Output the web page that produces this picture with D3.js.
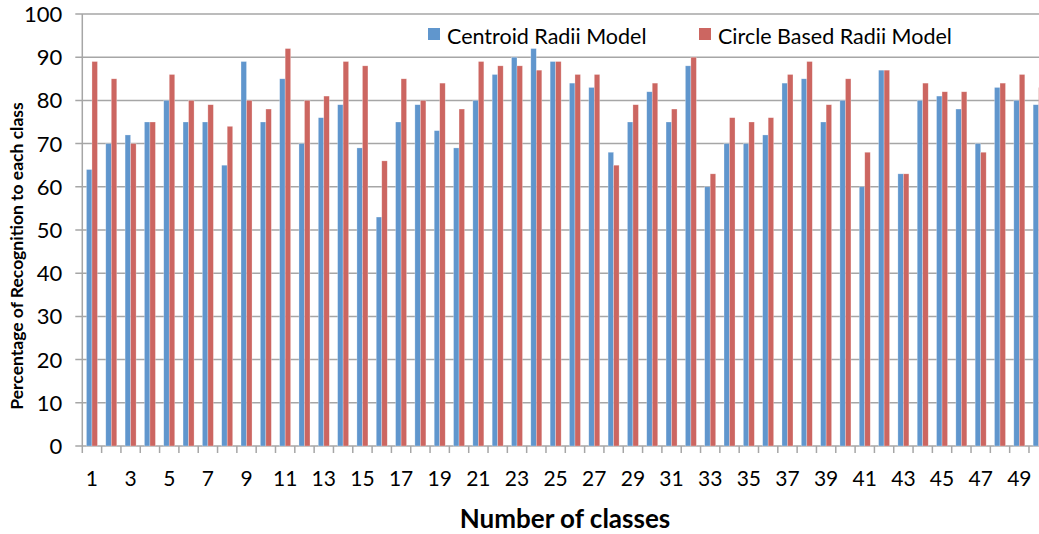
<!DOCTYPE html>
<html>
<head>
<meta charset="utf-8">
<script src="https://cdn.jsdelivr.net/npm/d3@7"></script>
<style>
  body { margin: 0; background: #fff; }
  svg { display: block; }
  text { font-family: Lato, "Open Sans", sans-serif; fill: #000; }
</style>
</head>
<body>
<div id="chart"></div>
<script>
// classes 1..50 (the last one is cut off by the right edge in the original)
var classes = d3.range(1, 51);
var seriesNames = ["Centroid Radii Model", "Circle Based Radii Model"];
var centroid = [64, 70, 72, 75, 80, 75, 75, 65, 89, 75,
                85, 70, 76, 79, 69, 53, 75, 79, 73, 69,
                80, 86, 90, 92, 89, 84, 83, 68, 75, 82,
                75, 88, 60, 70, 70, 72, 84, 85, 75, 80,
                60, 87, 63, 80, 81, 78, 70, 83, 80, 79];
var circle = [89, 85, 70, 75, 86, 80, 79, 74, 80, 78,
              92, 80, 81, 89, 88, 66, 85, 80, 84, 78,
              89, 88, 88, 87, 89, 86, 86, 65, 79, 84,
              78, 90, 63, 76, 75, 76, 86, 89, 79, 85,
              68, 87, 63, 84, 82, 82, 68, 84, 86, 83];
var yTicks = d3.range(0, 101, 10);
var colors = ["#6096CD", "#CC6661"];

var W = 1039, H = 534;
var marginLeft = 82.3, marginTop = 14, plotH = 432;
var bandW = 19.32;

var svg = d3.select("#chart").append("svg")
  .attr("width", W)
  .attr("height", H);

var x0 = d3.scaleBand()
  .domain(classes)
  .range([marginLeft, marginLeft + bandW * classes.length]);

var x1 = d3.scaleBand()
  .domain([0, 1])
  .range([x0.bandwidth() * 0.215, x0.bandwidth() * 0.785]);

var y = d3.scaleLinear()
  .domain([0, 100])
  .range([marginTop + plotH, marginTop]);

// gridlines
svg.append("g")
  .selectAll("line")
  .data(yTicks)
  .enter().append("line")
    .attr("x1", marginLeft - 7)
    .attr("x2", W)
    .attr("y1", function(d) { return y(d); })
    .attr("y2", function(d) { return y(d); })
    .attr("stroke", "#a6a6a6")
    .attr("stroke-width", 1.5);

// bars
var rows = classes.map(function(c, i) {
  return { cls: c, vals: [centroid[i], circle[i]] };
});

var groups = svg.append("g")
  .selectAll("g")
  .data(rows)
  .enter().append("g")
    .attr("transform", function(d) { return "translate(" + x0(d.cls) + ",0)"; });

groups.selectAll("rect")
  .data(function(d) { return d.vals.map(function(v, k) { return { k: k, v: v }; }); })
  .enter().append("rect")
    .attr("x", function(d) { return x1(d.k); })
    .attr("width", x1.bandwidth())
    .attr("y", function(d) { return y(d.v); })
    .attr("height", function(d) { return y(0) - y(d.v); })
    .attr("fill", function(d) { return colors[d.k]; })
    .attr("stroke", "#ffffff")
    .attr("stroke-opacity", 0.45)
    .attr("stroke-width", 0.6);

// y axis line
svg.append("line")
  .attr("x1", marginLeft).attr("x2", marginLeft)
  .attr("y1", marginTop).attr("y2", marginTop + plotH)
  .attr("stroke", "#a6a6a6")
  .attr("stroke-width", 1.5);

// y tick labels
svg.append("g")
  .selectAll("text")
  .data(yTicks)
  .enter().append("text")
    .attr("x", marginLeft - 20)
    .attr("y", function(d) { return y(d); })
    .attr("dy", "0.36em")
    .attr("text-anchor", "end")
    .style("font-size", "22px")
    .text(function(d) { return d; });

// x axis ticks at category boundaries
svg.append("g")
  .selectAll("line")
  .data(classes)
  .enter().append("line")
    .attr("x1", function(d) { return x0(d); })
    .attr("x2", function(d) { return x0(d); })
    .attr("y1", y(0))
    .attr("y2", y(0) + 7)
    .attr("stroke", "#a6a6a6")
    .attr("stroke-width", 1.5);

// x tick labels (odd classes only)
svg.append("g")
  .selectAll("text")
  .data(classes.filter(function(d) { return d % 2 === 1; }))
  .enter().append("text")
    .attr("x", function(d) { return x0(d) + x0.bandwidth() / 2; })
    .attr("y", 486)
    .attr("text-anchor", "middle")
    .style("font-size", "21px")
    .text(function(d) { return d; });

// axis titles
svg.append("text")
  .attr("x", 565)
  .attr("y", 528)
  .attr("text-anchor", "middle")
  .style("font-size", "26px")
  .style("font-weight", "bold")
  .text("Number of classes");

svg.append("text")
  .attr("transform", "translate(23,256) rotate(-90)")
  .attr("text-anchor", "middle")
  .style("font-size", "17.5px")
  .style("font-weight", "bold")
  .text("Percentage of Recognition to each class");

// legend
var legendX = [428, 699];
var legend = svg.append("g")
  .selectAll("g")
  .data(seriesNames)
  .enter().append("g")
    .attr("transform", function(d, i) { return "translate(" + legendX[i] + ",28)"; });

legend.append("rect")
  .attr("width", 12)
  .attr("height", 12)
  .attr("fill", function(d, i) { return colors[i]; });

legend.append("text")
  .attr("x", 19)
  .attr("y", 16)
  .style("font-size", "21.5px")
  .text(function(d) { return d; });
</script>
</body>
</html>
